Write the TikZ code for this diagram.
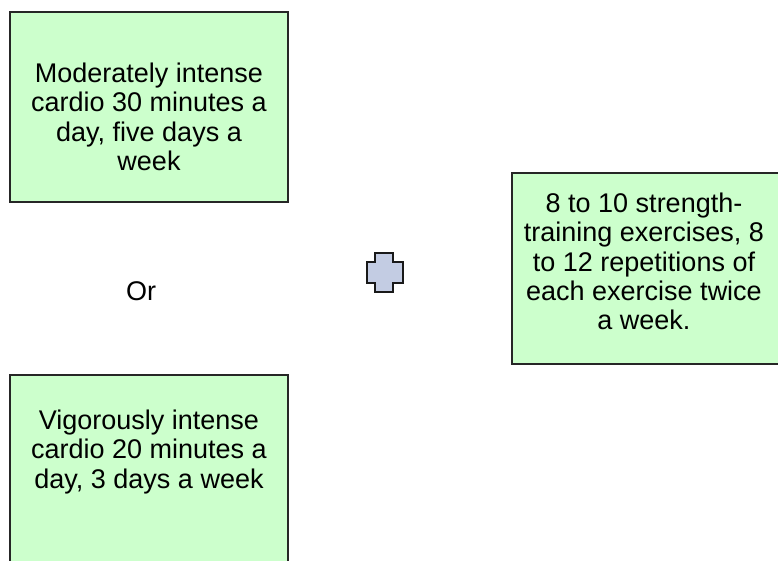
\documentclass[tikz,border=0pt]{standalone}
\usepackage{fontspec}
\setmainfont{Liberation Sans}
\definecolor{boxgreen}{HTML}{CCFFCC}
\definecolor{plusblue}{HTML}{C3CCE3}
\tikzset{
	box/.style={draw=black!85, fill=boxgreen, line width=1.4pt},
	boxtext/.style={align=center, inner sep=0pt, anchor=north, font=\fontsize{27}{29.2}\selectfont},
	plusmark/.style={draw=black!90, fill=plusblue, line width=1.4pt}
}
\begin{document}
\begin{tikzpicture}[x=1pt, y=-1pt]
		\useasboundingbox (0, 0) rectangle (778, 560);
		\clip (0, 0) rectangle (778, 560);
		\node[box, minimum width=278pt, minimum height=190pt] (moderate) at (149, 107) {};
		\node[box, minimum width=278pt, minimum height=190pt] (vigorous) at (149, 470) {};
		\node[box, minimum width=278pt, minimum height=191pt] (strength) at (651, 268.5) {};
		\node[boxtext] (moderatetext) at (149, 63)
			{Moderately intense\\cardio 30 minutes a\\day, five days a\\week};
		\node[boxtext] (vigoroustext) at (149, 410)
			{Vigorously intense\\cardio 20 minutes a\\day, 3 days a week};
		\node[boxtext] (strengthtext) at (644, 193)
			{8 to 10 strength-\\training exercises, 8\\to 12 repetitions of\\each exercise twice\\a week.};
		\node[font=\fontsize{27}{29.2}\selectfont] (or) at (141, 291) {Or};
		\draw[plusmark] (375, 253) -- (393, 253) -- (393, 262) -- (403, 262) -- (403, 283)
			-- (393, 283) -- (393, 292) -- (375, 292) -- (375, 283) -- (367, 283)
			-- (367, 262) -- (375, 262) -- cycle;
	\end{tikzpicture}
\end{document}
